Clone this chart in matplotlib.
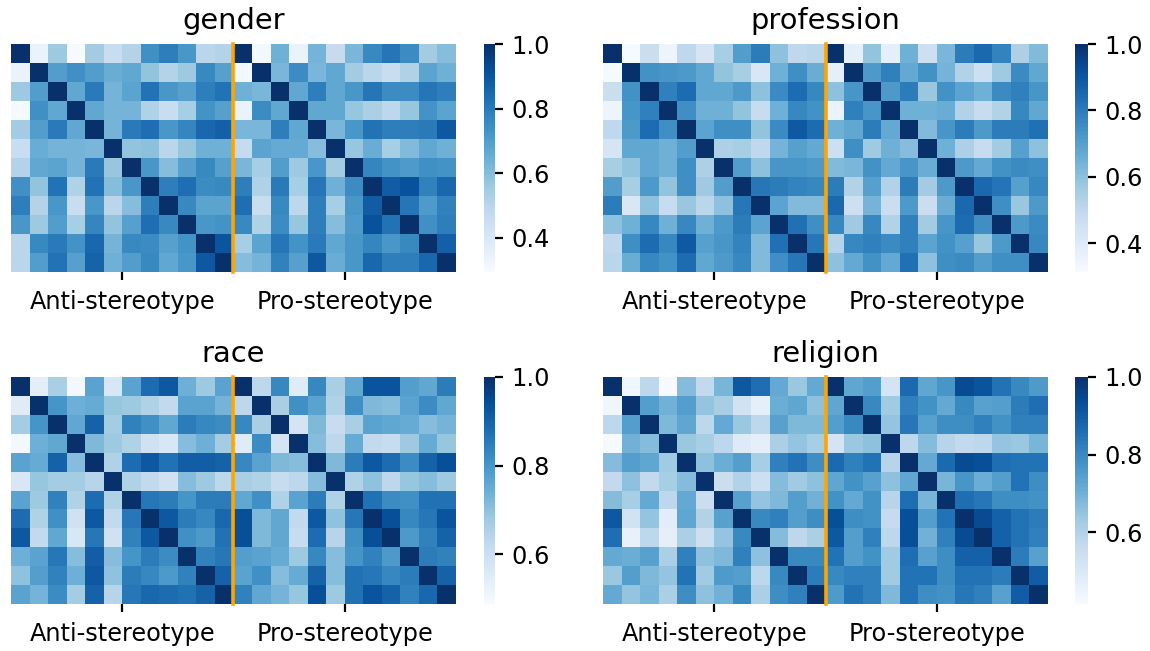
import numpy as np
import matplotlib
matplotlib.use('Agg')
import matplotlib.pyplot as plt
import seaborn as sns

group_labels = ['Anti-stereotype', 'Pro-stereotype']
titles = ['gender', 'profession', 'race', 'religion']
# bottom of each colour bar
vmins = [.294, .313, .488, .416]

gender = [
	[1.00,.34,.56,.30,.55,.46,.51,.74,.79,.72,.50,.51, 1.00,.31,.64,.34,.63,.47,.62,.76,.81,.75,.55,.60],
	[.34,1.00,.70,.74,.70,.65,.67,.58,.51,.56,.76,.69, .31,1.00,.62,.75,.62,.67,.55,.50,.46,.52,.68,.64],
	[.56,.70,1.00,.67,.80,.63,.68,.82,.72,.69,.79,.82, .64,.62,1.00,.67,.79,.67,.72,.81,.75,.75,.81,.79],
	[.30,.74,.67,1.00,.67,.63,.63,.52,.46,.54,.73,.69, .34,.75,.67,1.00,.67,.67,.57,.53,.49,.57,.73,.68],
	[.55,.70,.80,.67,1.00,.63,.80,.83,.72,.77,.85,.87, .62,.62,.79,.67,1.00,.62,.72,.82,.79,.79,.80,.89],
	[.46,.65,.63,.63,.62,1.00,.58,.59,.50,.57,.64,.64, .47,.68,.66,.66,.60,1.00,.57,.65,.54,.61,.67,.64],
	[.51,.67,.68,.63,.80,.57,1.00,.72,.60,.69,.76,.69, .62,.54,.70,.56,.72,.55,1.00,.77,.73,.71,.74,.73],
	[.74,.58,.82,.52,.82,.60,.72,1.00,.79,.83,.75,.76, .79,.52,.80,.54,.81,.64,.75,1.00,.88,.91,.78,.85],
	[.79,.51,.72,.46,.72,.50,.60,.79,1.00,.76,.68,.68, .83,.46,.76,.49,.79,.54,.72,.88,1.00,.81,.71,.78],
	[.72,.56,.70,.54,.77,.58,.69,.83,.76,1.00,.72,.73, .76,.52,.75,.57,.79,.60,.71,.91,.82,1.00,.74,.79],
	[.50,.76,.80,.73,.85,.63,.76,.75,.69,.73,1.00,.90, .54,.68,.81,.73,.80,.67,.72,.77,.72,.76,1.00,.87],
	[.50,.70,.82,.69,.86,.64,.70,.76,.67,.72,.89,1.00, .60,.63,.78,.69,.89,.65,.72,.85,.79,.79,.85,1.00],
]
profession = [
	[1.00,.32,.47,.35,.50,.43,.55,.71,.80,.60,.50,.51, 1.00,.38,.59,.38,.65,.46,.63,.80,.85,.78,.54,.62],
	[.32,1.00,.74,.73,.72,.68,.59,.55,.42,.65,.75,.66, .38,1.00,.72,.79,.67,.74,.64,.53,.46,.57,.76,.68],
	[.47,.74,1.00,.79,.84,.68,.68,.72,.60,.76,.84,.77, .60,.73,1.00,.72,.80,.58,.74,.69,.65,.76,.79,.73],
	[.35,.73,.79,1.00,.75,.65,.65,.59,.48,.65,.77,.74, .36,.79,.73,1.00,.65,.65,.66,.53,.48,.53,.77,.68],
	[.50,.72,.84,.75,1.00,.69,.75,.75,.59,.76,.89,.84, .65,.68,.80,.67,1.00,.62,.73,.80,.72,.80,.80,.83],
	[.43,.68,.68,.65,.71,1.00,.54,.55,.50,.64,.70,.67, .46,.75,.57,.65,.61,1.00,.65,.54,.48,.56,.70,.60],
	[.55,.59,.68,.65,.75,.54,1.00,.71,.60,.73,.73,.72, .62,.63,.74,.67,.73,.66,1.00,.72,.67,.74,.76,.75],
	[.71,.55,.72,.59,.75,.57,.71,1.00,.81,.80,.78,.77, .80,.53,.70,.53,.80,.56,.72,1.00,.85,.82,.70,.77],
	[.80,.42,.60,.48,.58,.51,.60,.81,1.00,.69,.62,.62, .85,.46,.64,.47,.72,.47,.66,.85,1.00,.75,.58,.72],
	[.60,.65,.77,.65,.77,.65,.72,.80,.69,1.00,.83,.75, .77,.57,.77,.53,.79,.56,.73,.84,.75,1.00,.72,.76],
	[.50,.75,.84,.77,.89,.70,.73,.78,.62,.83,1.00,.81, .52,.77,.79,.76,.79,.69,.74,.70,.58,.72,1.00,.77],
	[.51,.66,.77,.74,.84,.68,.72,.77,.62,.75,.81,1.00, .60,.67,.74,.67,.83,.60,.75,.76,.71,.75,.75,1.00],
]
race = [
	[1.00,.54,.66,.50,.77,.57,.77,.88,.92,.74,.68,.77, 1.00,.63,.83,.55,.83,.66,.76,.93,.93,.78,.76,.85],
	[.55,1.00,.80,.74,.75,.69,.68,.65,.62,.77,.77,.73, .63,1.00,.66,.81,.77,.65,.81,.72,.71,.77,.82,.76],
	[.67,.80,1.00,.76,.90,.67,.84,.81,.76,.85,.83,.82, .83,.66,1.00,.58,.72,.61,.66,.77,.76,.75,.71,.73],
	[.50,.74,.76,1.00,.72,.68,.65,.59,.57,.71,.74,.67, .55,.82,.58,1.00,.71,.63,.75,.62,.61,.68,.75,.69],
	[.77,.75,.90,.71,1.00,.65,.88,.92,.87,.91,.91,.90, .83,.77,.72,.71,1.00,.72,.85,.92,.88,.82,.90,.94],
	[.57,.69,.67,.67,.64,1.00,.65,.62,.59,.71,.68,.63, .66,.65,.61,.63,.71,1.00,.65,.70,.63,.69,.71,.68],
	[.77,.68,.84,.65,.88,.65,1.00,.86,.85,.80,.85,.85, .76,.81,.65,.77,.85,.65,1.00,.87,.82,.81,.87,.87],
	[.88,.65,.81,.59,.92,.62,.86,1.00,.92,.85,.83,.89, .94,.72,.76,.62,.92,.70,.86,1.00,.94,.83,.86,.93],
	[.92,.62,.76,.57,.86,.59,.84,.92,1.00,.81,.79,.87, .94,.72,.76,.61,.88,.64,.81,.94,1.00,.79,.84,.90],
	[.74,.77,.86,.71,.91,.71,.80,.85,.82,1.00,.84,.86, .78,.77,.75,.68,.83,.71,.80,.84,.79,1.00,.85,.84],
	[.70,.78,.84,.74,.92,.70,.85,.83,.79,.84,1.00,.90, .77,.81,.71,.75,.90,.71,.87,.86,.83,.85,1.00,.90],
	[.77,.73,.82,.67,.90,.64,.86,.89,.88,.87,.90,1.00, .84,.76,.73,.69,.94,.68,.87,.93,.90,.84,.89,1.00],
]
religion = [
	[1.00,.44,.58,.42,.67,.57,.69,.91,.86,.72,.64,.72, 1.00,.73,.75,.52,.87,.73,.77,.94,.92,.85,.80,.76],
	[.44,1.00,.75,.70,.75,.65,.62,.53,.47,.71,.73,.66, .73,1.00,.80,.63,.82,.78,.72,.80,.74,.75,.83,.86],
	[.58,.75,1.00,.68,.73,.58,.72,.64,.58,.74,.68,.68, .75,.80,1.00,.65,.84,.74,.79,.79,.82,.78,.82,.82],
	[.42,.70,.67,1.00,.64,.62,.58,.49,.47,.61,.65,.62, .52,.64,.66,1.00,.58,.67,.59,.57,.58,.65,.64,.69],
	[.67,.75,.73,.63,1.00,.66,.71,.75,.62,.82,.85,.79, .87,.82,.85,.59,1.00,.72,.87,.94,.93,.86,.85,.85],
	[.57,.66,.57,.62,.67,1.00,.55,.60,.54,.67,.63,.66, .73,.78,.74,.66,.73,1.00,.69,.77,.71,.75,.85,.79],
	[.67,.62,.72,.58,.72,.55,1.00,.74,.65,.68,.75,.70, .78,.72,.78,.59,.86,.69,1.00,.86,.84,.79,.79,.78],
	[.91,.53,.65,.48,.73,.60,.74,1.00,.80,.82,.75,.79, .93,.79,.78,.56,.93,.75,.85,1.00,.94,.89,.85,.83],
	[.86,.46,.58,.47,.61,.54,.65,.80,1.00,.67,.58,.61, .91,.75,.82,.58,.93,.70,.82,.94,1.00,.89,.85,.82],
	[.72,.71,.74,.61,.82,.66,.68,.82,.66,1.00,.80,.80, .85,.75,.78,.63,.86,.74,.79,.89,.89,1.00,.83,.74],
	[.64,.75,.68,.65,.85,.63,.76,.75,.58,.80,1.00,.83, .80,.82,.82,.63,.85,.85,.79,.85,.85,.83,1.00,.90],
	[.72,.65,.69,.61,.79,.66,.70,.80,.61,.79,.82,1.00, .76,.85,.82,.68,.85,.79,.78,.84,.82,.74,.90,1.00],
]
matrices = [gender, profession, race, religion]

W, H = 1150, 651
plt.rcParams['font.size'] = 17.3
fig = plt.figure(figsize=(W/100, H/100), dpi=100)

def box(x0, y0, x1, y1):
	return [x0/W, 1-y1/H, (x1-x0)/W, (y1-y0)/H]

lefts = [11, 603, 11, 603]
tops = [44, 44, 377, 377]
bottoms = [272, 272, 604, 604]
cbar_lefts = [484, 1075, 484, 1075]
cbar_rights = [495, 1088, 495, 1088]
for i in range(4):
	x0, y0, y1 = lefts[i], tops[i], bottoms[i]
	ax = fig.add_axes(box(x0, y0, x0+445, y1))
	cax = fig.add_axes(box(cbar_lefts[i], y0, cbar_rights[i], y1))
	data = np.array(matrices[i])
	sns.heatmap(data, cmap='Blues', vmin=vmins[i], vmax=1, ax=ax, cbar_ax=cax, yticklabels=False)
	ax.set_title(titles[i], fontsize=20.8, pad=10.5)
	ax.set_xticks([6, 18])
	ax.set_xticklabels(group_labels, rotation=0, fontsize=17.3)
	ax.tick_params(axis='x', length=6, width=1.6, pad=7)
	ax.axvline(12, color='orange', linewidth=2.6, clip_on=False)
	cax.tick_params(length=6, width=1.6, labelsize=17.3, pad=5.5)
	cax.set_yticks(np.arange(np.ceil(vmins[i]*5)/5, 1.01, 0.2))

fig.savefig('out.png', dpi=100)
